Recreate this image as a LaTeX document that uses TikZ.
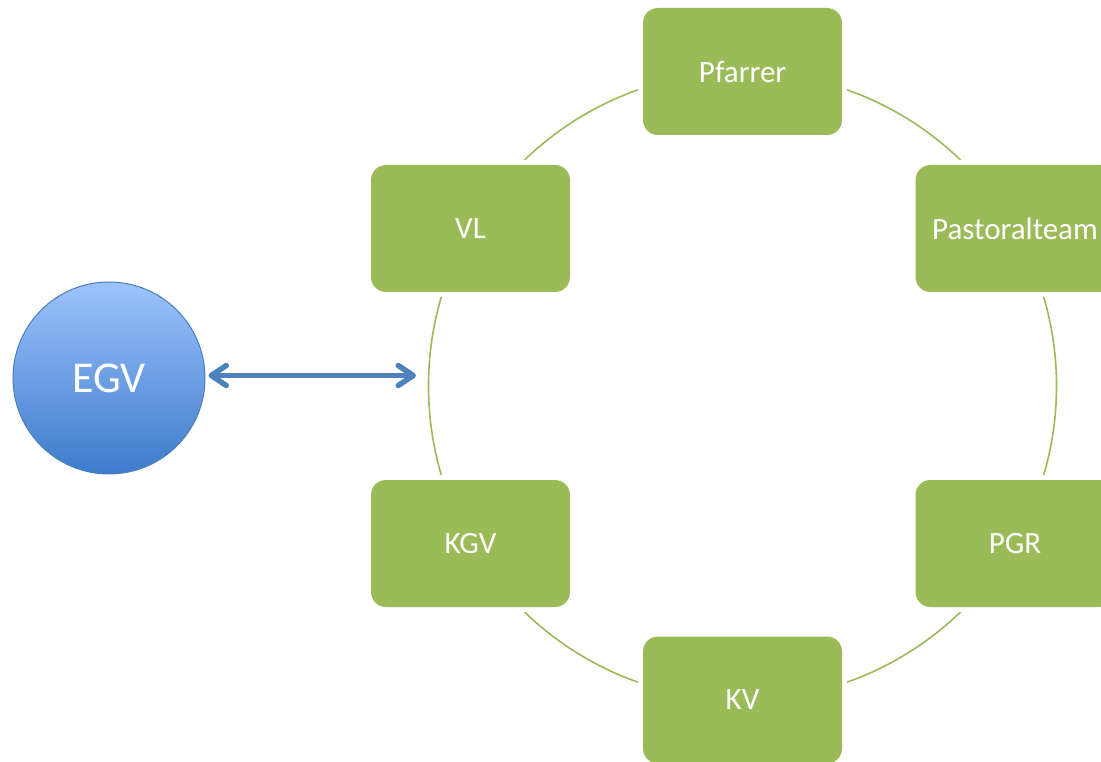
\documentclass[tikz,border=0pt]{standalone}
\usepackage{fontspec}
\setmainfont{Carlito}
\usetikzlibrary{arrows.meta}
\definecolor{boxgreen}{HTML}{9BBB59}
\definecolor{arrblue}{HTML}{4F81BD}
\definecolor{egvtop}{HTML}{9DC3FD}
\definecolor{egvbot}{HTML}{3D7BCB}
\definecolor{egvline}{HTML}{4A7EBB}
\tikzset{
  gbox/.style={preaction={draw=white, line width=10pt}, fill=boxgreen, draw=none,
    rounded corners=15pt, minimum width=199pt, minimum height=127pt, inner sep=0pt,
    text=white, font=\fontsize{31}{36}\selectfont},
  ring/.style={draw=boxgreen, line width=1.6pt},
  egvnode/.style={circle, minimum size=192pt, inner sep=0pt, draw=egvline, line width=1pt,
    top color=egvtop, bottom color=egvbot, text=white, font=\fontsize{44}{50}\selectfont},
  link/.style={draw=arrblue, line width=5.5pt, line cap=round,
    {Straight Barb[length=15pt, width=20pt, round]}-{Straight Barb[length=15pt, width=20pt, round]}}
}
\begin{document}
\begin{tikzpicture}[x=1pt, y=-1pt]
\useasboundingbox (0,0) rectangle (1101,762);
\clip (0,0) rectangle (1101,762);
\coordinate (c) at (742.5,386);
\draw[ring] (c) circle[radius=314pt];
\node[gbox] (pfarrer) at (742.5,71.5) {Pfarrer};
\node[gbox] (pastoral) at (1015,228.5) {Pastoralteam};
\node[gbox] (pgr) at (1015,543.5) {PGR};
\node[gbox] (kv) at (742.5,700) {KV};
\node[gbox] (kgv) at (470.5,543.5) {KGV};
\node[gbox] (vl) at (470.5,228.5) {VL};
\node[egvnode] (egv) at (109,378) {EGV};
\coordinate (tip) at (416,375.5);
\draw[link] ([xshift=3pt]egv.east |- tip) -- (tip);
\end{tikzpicture}
\end{document}
